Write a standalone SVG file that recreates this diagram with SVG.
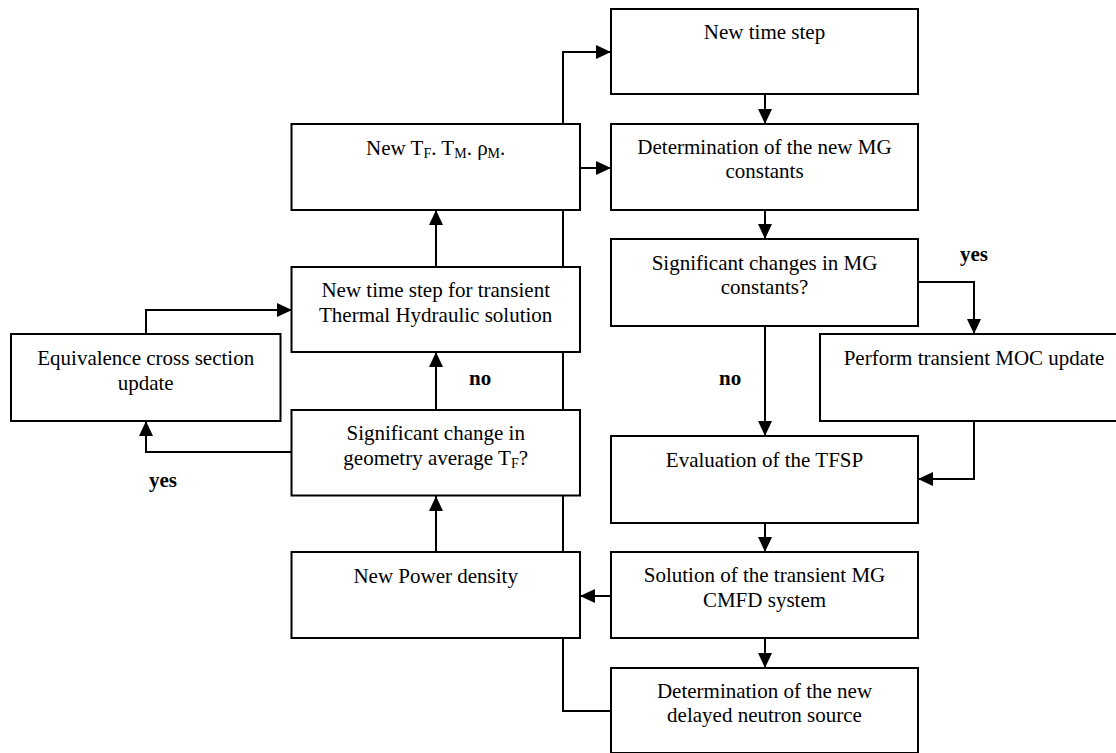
<svg xmlns="http://www.w3.org/2000/svg" width="1116" height="753" viewBox="0 0 1116 753">
  <style>
    .box { fill: #ffffff; stroke: #000000; stroke-width: 2; }
    .txt { font-family: "Liberation Serif", "Times New Roman", serif; font-size: 21px; fill: #000000; text-anchor: middle; }
    .lbl { font-family: "Liberation Serif", "Times New Roman", serif; font-size: 21px; font-weight: bold; fill: #000000; }
    .sub { font-size: 14px; }
    .wire { fill: none; stroke: #000000; stroke-width: 2; }
  </style>
  <defs>
    <marker id="arrow" markerUnits="userSpaceOnUse" markerWidth="16" markerHeight="15" refX="15" refY="7" orient="auto">
      <path d="M0,0 L15,7 L0,14 z" fill="#000000"/>
    </marker>
  </defs>

  <!-- connectors (drawn first so the white boxes hide the long feedback line) -->
  <g id="connectors">
    <path class="wire" d="M580,168 H611" marker-end="url(#arrow)"/>
    <path class="wire" d="M611,711 H563 V52 H611" marker-end="url(#arrow)"/>
    <path class="wire" d="M765,94 V124" marker-end="url(#arrow)"/>
    <path class="wire" d="M765,210 V239" marker-end="url(#arrow)"/>
    <path class="wire" d="M918,282 H974 V334" marker-end="url(#arrow)"/>
    <path class="wire" d="M765,326 V436" marker-end="url(#arrow)"/>
    <path class="wire" d="M974,421 V479 H918" marker-end="url(#arrow)"/>
    <path class="wire" d="M765,523 V552" marker-end="url(#arrow)"/>
    <path class="wire" d="M611,596 H580" marker-end="url(#arrow)"/>
    <path class="wire" d="M765,638 V668" marker-end="url(#arrow)"/>
    <path class="wire" d="M436,552 V496" marker-end="url(#arrow)"/>
    <path class="wire" d="M436,410 V352" marker-end="url(#arrow)"/>
    <path class="wire" d="M292,452 H146 V421" marker-end="url(#arrow)"/>
    <path class="wire" d="M146,334 V310 H292" marker-end="url(#arrow)"/>
    <path class="wire" d="M436,267 V210" marker-end="url(#arrow)"/>
    <text class="lbl" x="960" y="261">yes</text>
    <text class="lbl" x="719" y="385">no</text>
    <text class="lbl" x="469" y="385">no</text>
    <text class="lbl" x="149" y="487">yes</text>
  </g>

  <g id="new-time-step">
    <rect class="box" x="611" y="9" width="307" height="85"/>
    <text class="txt" x="764.5" y="39">New time step</text>
  </g>
  <g id="new-mg-constants">
    <rect class="box" x="611" y="124" width="307" height="86"/>
    <text class="txt" x="764.5" y="154">Determination of the new MG</text>
    <text class="txt" x="764.5" y="178">constants</text>
  </g>
  <g id="mg-change-check">
    <rect class="box" x="611" y="239" width="307" height="87"/>
    <text class="txt" x="764.5" y="270">Significant changes in MG</text>
    <text class="txt" x="764.5" y="294">constants?</text>
  </g>
  <g id="moc-update">
    <rect class="box" x="820" y="334" width="308" height="87"/>
    <text class="txt" x="974" y="365">Perform transient MOC update</text>
  </g>
  <g id="tfsp">
    <rect class="box" x="611" y="436" width="307" height="87"/>
    <text class="txt" x="764.5" y="467">Evaluation of the TFSP</text>
  </g>
  <g id="cmfd-solution">
    <rect class="box" x="611" y="552" width="307" height="86"/>
    <text class="txt" x="764.5" y="582">Solution of the transient MG</text>
    <text class="txt" x="764.5" y="607">CMFD system</text>
  </g>
  <g id="delayed-source">
    <rect class="box" x="611" y="668" width="307" height="85"/>
    <text class="txt" x="764.5" y="698">Determination of the new</text>
    <text class="txt" x="764.5" y="722">delayed neutron source</text>
  </g>
  <g id="new-properties">
    <rect class="box" x="291.5" y="124" width="288.5" height="86"/>
    <text class="txt" x="435.7" y="155">New T<tspan class="sub" dy="3">F</tspan><tspan dy="-3">. T</tspan><tspan class="sub" dy="3">M</tspan><tspan dy="-3">. ρ</tspan><tspan class="sub" dy="3">M</tspan><tspan dy="-3">.</tspan></text>
  </g>
  <g id="th-time-step">
    <rect class="box" x="291.5" y="267" width="288.5" height="85"/>
    <text class="txt" x="435.7" y="297">New time step for transient</text>
    <text class="txt" x="435.7" y="322">Thermal Hydraulic solution</text>
  </g>
  <g id="equivalence-update">
    <rect class="box" x="11" y="334" width="269.5" height="87"/>
    <text class="txt" x="145.7" y="365">Equivalence cross section</text>
    <text class="txt" x="145.7" y="390">update</text>
  </g>
  <g id="geometry-change-check">
    <rect class="box" x="291.5" y="410" width="288.5" height="85.5"/>
    <text class="txt" x="435.7" y="440">Significant change in</text>
    <text class="txt" x="435.7" y="465">geometry average T<tspan class="sub" dy="3">F</tspan><tspan dy="-3">?</tspan></text>
  </g>
  <g id="power-density">
    <rect class="box" x="291.5" y="552" width="288.5" height="86"/>
    <text class="txt" x="435.7" y="583">New Power density</text>
  </g>
</svg>
